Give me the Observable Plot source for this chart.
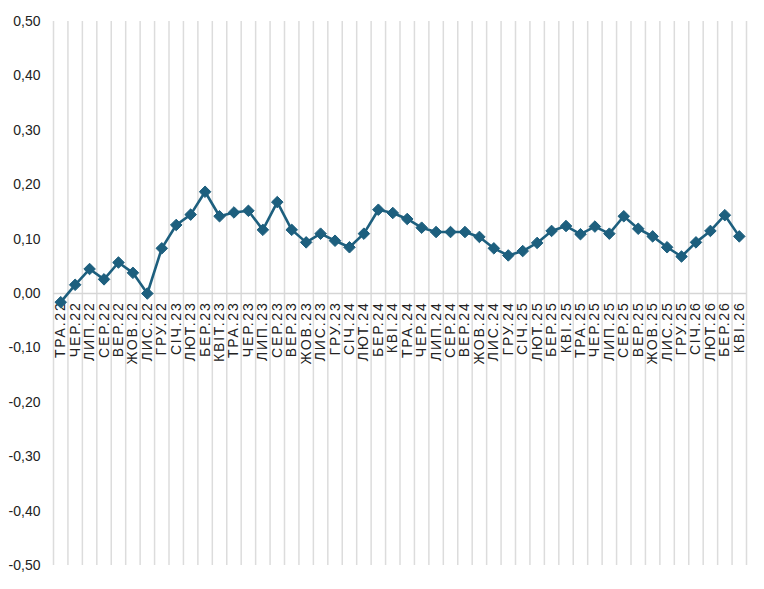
<!DOCTYPE html>
<html>
<head>
<meta charset="utf-8">
<script src="https://cdn.jsdelivr.net/npm/d3@7"></script>
<script src="https://cdn.jsdelivr.net/npm/@observablehq/plot@0.6"></script>
<style>
  html, body { margin: 0; padding: 0; background: #fff; }
  #chart svg { display: block; }
  #chart g[aria-label="text"] text { letter-spacing: 1.8px; }
</style>
</head>
<body>
<div id="chart"></div>
<script>
const months = ["ТРА.22","ЧЕР.22","ЛИП.22","СЕР.22","ВЕР.22","ЖОВ.22","ЛИС.22","ГРУ.22",
  "СІЧ.23","ЛЮТ.23","БЕР.23","КВІТ.23","ТРА.23","ЧЕР.23","ЛИП.23","СЕР.23","ВЕР.23","ЖОВ.23","ЛИС.23","ГРУ.23",
  "СІЧ.24","ЛЮТ.24","БЕР.24","КВІ.24","ТРА.24","ЧЕР.24","ЛИП.24","СЕР.24","ВЕР.24","ЖОВ.24","ЛИС.24","ГРУ.24",
  "СІЧ.25","ЛЮТ.25","БЕР.25","КВІ.25","ТРА.25","ЧЕР.25","ЛИП.25","СЕР.25","ВЕР.25","ЖОВ.25","ЛИС.25","ГРУ.25",
  "СІЧ.26","ЛЮТ.26","БЕР.26","КВІ.26"];
const values = [-0.016,0.016,0.045,0.026,0.057,0.038,0.000,0.083,
  0.126,0.145,0.187,0.142,0.149,0.152,0.117,0.168,0.117,0.094,0.110,0.097,
  0.085,0.110,0.154,0.148,0.137,0.121,0.113,0.113,0.113,0.104,0.083,0.070,
  0.078,0.093,0.115,0.124,0.109,0.123,0.110,0.142,0.119,0.105,0.085,0.068,
  0.094,0.115,0.144,0.105];
const yTicks = [-0.5,-0.4,-0.3,-0.2,-0.1,0,0.1,0.2,0.3,0.4,0.5];

const data = months.map((m, i) => ({month: m, pos: i + 0.5, value: values[i]}));
const boundaries = d3.range(0, months.length + 1);
const fmt = d => d.toFixed(2).replace(".", ",").replace("-0,00", "0,00");
const lineColor = "#1d5f7e";

const chart = Plot.plot({
  width: 764,
  height: 589,
  marginTop: 21,
  marginBottom: 24,
  marginLeft: 53,
  marginRight: 18,
  style: {fontFamily: "Liberation Sans, Arial, sans-serif", fontSize: "14px", color: "#222", background: "#fff"},
  x: {domain: [0, months.length], axis: null},
  y: {domain: [-0.5, 0.5], ticks: yTicks, tickFormat: fmt, tickSize: 0, tickPadding: 13, label: null},
  marks: [
    Plot.ruleX(boundaries, {x: d => d, stroke: "#dcdcdc", strokeWidth: 1.5}),
    Plot.ruleY([0], {stroke: "#d6d6d6", strokeWidth: 1.5}),
    Plot.text(data, {x: "pos", y: 0, text: "month", rotate: -90, textAnchor: "end", dy: 8, fontSize: 14, fill: "#222"}),
    Plot.line(data, {x: "pos", y: "value", stroke: lineColor, strokeWidth: 2.6}),
    Plot.dot(data, {x: "pos", y: "value", symbol: "diamond2", r: 5.2, fill: lineColor, stroke: lineColor, strokeWidth: 1})
  ]
});
d3.select(chart).selectAll('g[aria-label="text"] text').style("letter-spacing", "1.8px");
document.getElementById("chart").appendChild(chart);
</script>
</body>
</html>
